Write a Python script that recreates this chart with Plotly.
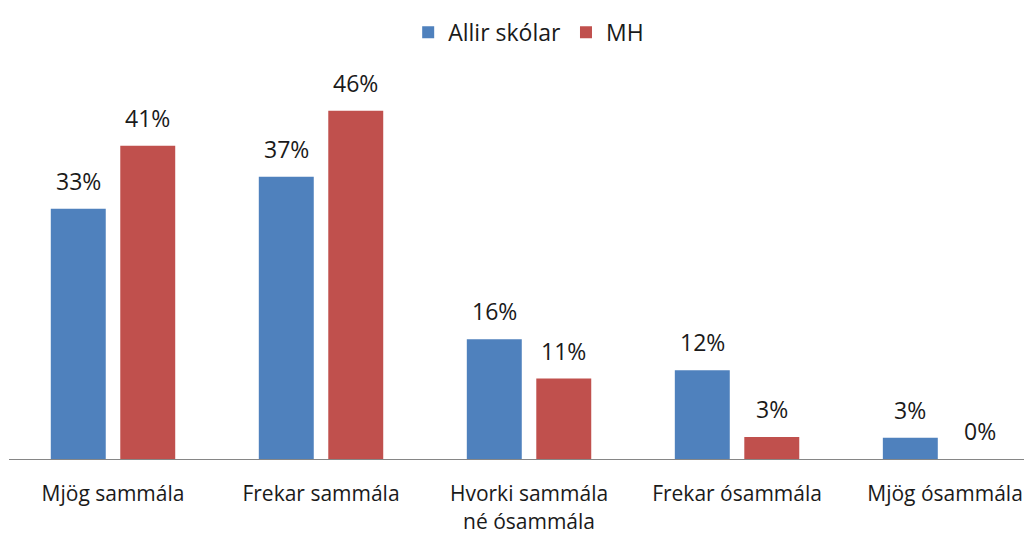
import plotly.graph_objects as go

categories = ["Mjög sammála", "Frekar sammála", "Hvorki sammála<br>né ósammála", "Frekar ósammála", "Mjög ósammála"]
series_names = ["Allir skólar", "MH"]
allir = [33.0, 37.2, 15.8, 11.7, 2.8]
mh = [41.3, 45.9, 10.6, 2.9, 0.0]
allir_labels = ["33%", "37%", "16%", "12%", "3%"]
mh_labels = ["41%", "46%", "11%", "3%", "0%"]
colors = ["#4F81BD", "#C0504D"]

FONT = "Open Sans, sans-serif"
FS = 23
TXT = "#1a1a1a"
xs = list(range(len(categories)))

fig = go.Figure()
fig.add_trace(go.Bar(x=xs, y=allir, name=series_names[0], marker_color=colors[0],
                     marker_line_width=0))
fig.add_trace(go.Bar(x=xs, y=mh, name=series_names[1], marker_color=colors[1],
                     marker_line_width=0))

annotations = []
for vals, labels, shift in [(allir, allir_labels, -34.75), (mh, mh_labels, 34.75)]:
    for x, v, t in zip(xs, vals, labels):
        annotations.append(dict(x=x, y=v, text=t, showarrow=False, xshift=shift,
                                yanchor="bottom", yshift=10,
                                font=dict(family=FONT, size=FS, color=TXT)))

fig.update_layout(
    width=1024, height=535,
    margin=dict(l=1, r=0, t=52, b=84),
    paper_bgcolor="white", plot_bgcolor="white",
    barmode="group", bargap=0.332, bargroupgap=0.209,
    font=dict(family=FONT, size=FS, color=TXT),
    legend=dict(orientation="h", x=0.508, xanchor="center", y=0.995, yanchor="top",
                yref="container", font=dict(family=FONT, size=FS, color=TXT),
                itemwidth=30, traceorder="normal"),
    annotations=annotations,
    showlegend=True,
)
fig.update_xaxes(range=[-0.5, 4.418], tickmode="array", tickvals=xs, ticktext=categories,
                 showline=True, linecolor="#868686", linewidth=1, showgrid=False,
                 ticks="", ticklabelstandoff=16, tickfont=dict(family=FONT, size=21, color=TXT))
fig.update_yaxes(range=[0, 52.6], visible=False, showgrid=False, zeroline=False)

fig.write_html("out.html")
